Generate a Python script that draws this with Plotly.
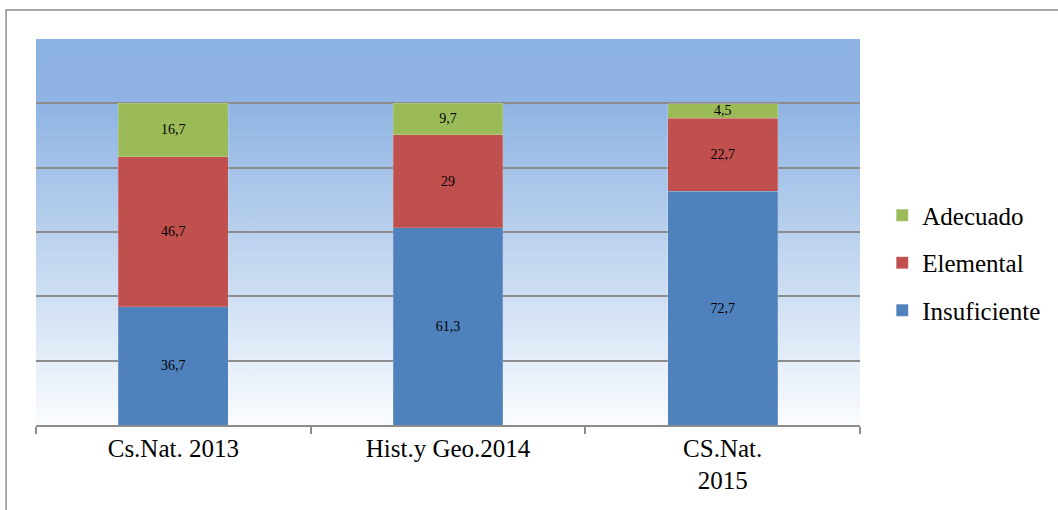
import base64
import plotly.graph_objects as go

# === Datos ===
categorias = ['Cs.Nat. 2013', 'Hist.y Geo.2014', 'CS.Nat.<br>2015']
insuficiente = [36.7, 61.3, 72.7]
elemental = [46.7, 29, 22.7]
adecuado = [16.7, 9.7, 4.5]

fuente = 'Liberation Serif, Times New Roman, serif'


def etiqueta(v):
    return f'{v:g}'.replace('.', ',')


# fondo degradado del área de trazado
svg = ('<svg xmlns="http://www.w3.org/2000/svg" width="100" height="100" '
       'viewBox="0 0 100 100" preserveAspectRatio="none">'
       '<defs><linearGradient id="g" x1="0" y1="0" x2="0" y2="1">'
       '<stop offset="0" stop-color="#8DB3E2"/>'
       '<stop offset="0.17" stop-color="#8FB4E3"/>'
       '<stop offset="1" stop-color="#FAFCFE"/>'
       '</linearGradient></defs>'
       '<rect width="100" height="100" fill="url(#g)"/></svg>')
fondo = 'data:image/svg+xml;base64,' + base64.b64encode(svg.encode()).decode()

fig = go.Figure()
for nombre, valores, color, rango in [('Insuficiente', insuficiente, '#4F81BD', 3),
                                      ('Elemental', elemental, '#C0504D', 2),
                                      ('Adecuado', adecuado, '#9BBB59', 1)]:
    fig.add_trace(go.Bar(
        x=categorias, y=valores, name=nombre, legendgroup=nombre, legendrank=rango,
        marker=dict(color=color, line=dict(color='rgba(255,255,255,0.35)', width=0.5)),
        width=0.4,
        text=[etiqueta(v) for v in valores],
        textposition='inside', insidetextanchor='middle',
        textfont=dict(family=fuente, size=14, color='black'),
        hoverinfo='skip'
    ))

fig.update_layout(
    width=1058, height=510,
    barmode='stack',
    paper_bgcolor='white', plot_bgcolor='rgba(0,0,0,0)',
    margin=dict(l=36, r=196, t=39, b=85),
    font=dict(family=fuente, color='black'),
    uniformtext=dict(minsize=14, mode='show'),
    showlegend=True,
    legend=dict(
        x=1.027, y=0.42, xanchor='left', yanchor='middle',
        traceorder='grouped', tracegroupgap=12,
        font=dict(family=fuente, size=25, color='black'),
        itemwidth=30
    ),
    xaxis=dict(
        showline=True, linecolor='#8C8C8C', linewidth=1.5,
        ticks='outside', tickson='boundaries', ticklen=7,
        tickcolor='#8C8C8C', tickwidth=1.5,
        tickfont=dict(family=fuente, size=25, color='black'),
        showgrid=False
    ),
    yaxis=dict(
        range=[0, 120], dtick=20, showticklabels=False,
        showgrid=True, gridcolor='#8C8C8C', gridwidth=1.5,
        zeroline=False, showline=False
    ),
    images=[dict(source=fondo, xref='paper', yref='paper', x=0, y=1,
                 sizex=1, sizey=1, xanchor='left', yanchor='top',
                 sizing='stretch', layer='below')],
    shapes=[dict(type='rect', xref='paper', yref='paper',
                 x0=-0.0363, x1=1.4, y0=-0.4, y1=1.075,
                 line=dict(color='#8C8C8C', width=1.5), layer='below')]
)

fig.write_html('out.html', config={'displayModeBar': False},
               post_script="document.body.style.margin='0';")
